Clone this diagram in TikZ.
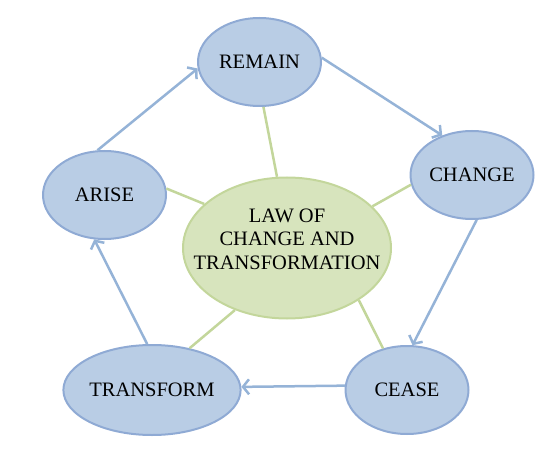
\documentclass[tikz,border=0pt]{standalone}
\usepackage{fontspec}
\setmainfont{Liberation Serif}
\usetikzlibrary{shapes.geometric,arrows.meta}
\definecolor{bfill}{HTML}{B9CDE5}
\definecolor{bdraw}{HTML}{8FAAD4}
\definecolor{barrow}{HTML}{95B3D7}
\definecolor{gfill}{HTML}{D7E4BD}
\definecolor{gdraw}{HTML}{C3D69B}
\tikzset{
  stage/.style={ellipse,draw=bdraw,fill=bfill,line width=2pt,inner sep=0pt,
    minimum width=123pt,minimum height=88pt,font=\fontsize{20.5}{23.5}\selectfont},
  hub/.style={ellipse,draw=gdraw,fill=gfill,line width=2pt,inner sep=0pt,
    minimum width=208pt,minimum height=141pt},
  hubtext/.style={align=center,inner sep=0pt,font=\fontsize{20.5}{23.5}\selectfont},
  flow/.style={draw=barrow,line width=2.5pt,-{Straight Barb[length=6pt,width=15pt]}},
  spoke/.style={draw=gdraw,line width=2.5pt}
}
\begin{document}
\begin{tikzpicture}[x=1pt,y=-1pt]
\useasboundingbox (0,0) rectangle (556,462);
\node[hub] (law) at (287,248) {};
\node[hubtext] (lawtext) at (287,239) {LAW OF\\CHANGE AND\\TRANSFORMATION};
\node[stage] (remain) at (259.5,62) {REMAIN};
\node[stage] (change) at (472,175) {CHANGE};
\node[stage] (cease) at (407,390) {CEASE};
\node[stage,minimum width=138pt,minimum height=90pt] (transform) at (152,390) {TRANSFORM};
\node[stage] (arise) at (104.5,195) {ARISE};
% spokes
\draw[spoke] (remain.275) -- (law.98);
\draw[spoke] (change.189) -- (law.26.6);
\draw[spoke] (cease.120) -- (law.324);
\draw[spoke] (transform.48) -- (law.230);
\draw[spoke] (arise.6) -- (law.152);
% cycle arrows
\draw[flow] (arise.99) -- (remain.186);
\draw[flow] (remain.4) -- (change.127);
\draw[flow] (change.276) -- (cease.83);
\draw[flow] (cease.176) -- (transform.2);
\draw[flow] (transform.96) -- (arise.257);
\end{tikzpicture}
\end{document}
